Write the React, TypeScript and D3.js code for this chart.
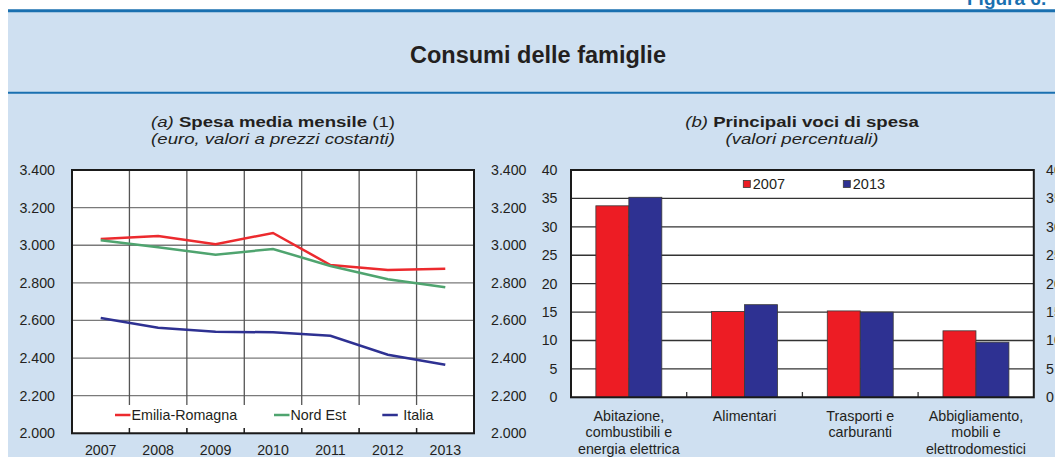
import * as d3 from 'd3';

const years = ['2007', '2008', '2009', '2010', '2011', '2012', '2013'];
const emiliaRomagna = [3033, 3049, 3005, 3065, 2895, 2868, 2875];
const nordEst = [3026, 2989, 2950, 2980, 2890, 2819, 2776];
const italia = [2613, 2561, 2540, 2537, 2519, 2418, 2365];
const euroTicks = [2000, 2200, 2400, 2600, 2800, 3000, 3200, 3400];

const voci = [
    ['Abitazione,', 'combustibili e', 'energia elettrica'],
    ['Alimentari'],
    ['Trasporti e', 'carburanti'],
    ['Abbigliamento,', 'mobili e', 'elettrodomestici']
];
const spesa2007 = [33.7, 15.1, 15.2, 11.7];
const spesa2013 = [35.2, 16.3, 15.0, 9.7];
const pctTicks = [0, 5, 10, 15, 20, 25, 30, 35, 40];

const FONT = '"Liberation Sans", Arial, Helvetica, sans-serif';
const BG = '#cfe0f1';
const BLUE_LINE = '#1a70b0';
const TXT = '#231f20';

const it = d3.formatLocale({ decimal: ',', thousands: '.', grouping: [3], currency: ['€', ''] });
const fmt = it.format(',');

const App = () => {
    // chart (a)
    const ax = d3.scaleBand().domain(years).range([72, 474]).padding(0);
    const ay = d3.scaleLinear().domain([2000, 3400]).range([433.3, 170]);
    const line = d3.line<number>()
        .x((d, i) => (ax(years[i]) as number) + ax.bandwidth() / 2)
        .y(d => ay(d));
    const series = [
        { label: 'Emilia-Romagna', values: emiliaRomagna, color: '#ec2a2e' },
        { label: 'Nord Est', values: nordEst, color: '#4fa46f' },
        { label: 'Italia', values: italia, color: '#2e3192' }
    ];
    const legendA = [115, 274, 382.3];

    // chart (b)
    const bx0 = d3.scaleBand().domain(voci.map((d, i) => String(i))).range([571, 1033.8])
        .paddingInner(0.43).paddingOuter(0.215);
    const bx1 = d3.scaleBand().domain(['2007', '2013']).range([0, bx0.bandwidth()]);
    const by = d3.scaleLinear().domain([0, 40]).range([397.3, 170]);
    const barColor: any = { '2007': '#ed1c24', '2013': '#2e3192' };
    const step = bx0.step();

    return (
        <svg width={1055} height={457} style={{ position: 'absolute', left: 0, top: 0 }} fontFamily={FONT}>
            <rect x={0} y={0} width={1055} height={457} fill="#fff" />
            <rect x={8} y={11} width={1047} height={446} fill={BG} />
            <text x={967} y={5} fontSize={19} fontWeight="bold" fill={BLUE_LINE}>Figura 6.</text>
            <line x1={8} x2={1055} y1={10.7} y2={10.7} stroke={BLUE_LINE} strokeWidth={3} />
            <line x1={8} x2={1055} y1={92.7} y2={92.7} stroke={BLUE_LINE} strokeWidth={2} />
            <text x={538} y={62.7} textAnchor="middle" fontSize={23.5} fontWeight="bold" fill={TXT}>Consumi delle famiglie</text>

            {/* subtitles */}
            <g transform="translate(273,127) scale(1.2,1)" fill={TXT} fontSize={15.5}>
                <text textAnchor="middle">
                    <tspan fontStyle="italic">(a) </tspan>
                    <tspan fontWeight="bold">Spesa media mensile</tspan>
                    <tspan> (1)</tspan>
                </text>
                <text y={17.5} textAnchor="middle" fontStyle="italic">(euro, valori a prezzi costanti)</text>
            </g>
            <g transform="translate(802,127) scale(1.2,1)" fill={TXT} fontSize={15.5}>
                <text textAnchor="middle">
                    <tspan fontStyle="italic">(b) </tspan>
                    <tspan fontWeight="bold">Principali voci di spesa</tspan>
                </text>
                <text y={17.5} textAnchor="middle" fontStyle="italic">(valori percentuali)</text>
            </g>

            {/* chart (a) */}
            <rect x={72} y={170} width={402} height={263.3} fill="#fff" />
            {euroTicks.map(t => (
                <g key={t}>
                    <line x1={72} x2={474} y1={ay(t)} y2={ay(t)} stroke="#7a7a7a" strokeWidth={1.3} />
                    <text x={55} y={ay(t)} dy="0.35em" textAnchor="end" fontSize={14.2} fill={TXT}>{fmt(t)}</text>
                    <text x={491} y={ay(t)} dy="0.35em" textAnchor="start" fontSize={14.2} fill={TXT}>{fmt(t)}</text>
                </g>
            ))}
            {years.slice(1).map(y => (
                <line key={y} x1={ax(y)} x2={ax(y)} y1={170} y2={433.3} stroke="#555" strokeWidth={1.3} />
            ))}
            <rect x={73} y={405} width={400} height={23} fill="#fff" />
            {years.slice(1).map(y => (
                <line key={'t' + y} x1={ax(y)} x2={ax(y)} y1={428} y2={433.3} stroke="#222" strokeWidth={1.3} />
            ))}
            {series.map(s => (
                <path key={s.label} d={line(s.values) as string} fill="none" stroke={s.color} strokeWidth={2.5} />
            ))}
            {series.map((s, i) => (
                <g key={'l' + s.label}>
                    <line x1={legendA[i]} x2={legendA[i] + 15.5} y1={415} y2={415} stroke={s.color} strokeWidth={2.5} />
                    <text x={legendA[i] + (i === 2 ? 21 : 16.5)} y={415} dy="0.35em" fontSize={14.3} fill={TXT}>{s.label}</text>
                </g>
            ))}
            <rect x={72} y={170} width={402} height={263.3} fill="none" stroke="#1a1a1a" strokeWidth={2} />
            {years.map(y => (
                <text key={'x' + y} x={(ax(y) as number) + ax.bandwidth() / 2} y={450.2} dy="0.35em" textAnchor="middle" fontSize={14.2} fill={TXT}>{y}</text>
            ))}

            {/* chart (b) */}
            <rect x={571} y={170} width={462.8} height={227.3} fill="#fff" />
            {pctTicks.map(t => (
                <g key={t}>
                    <line x1={571} x2={1033.8} y1={by(t)} y2={by(t)} stroke="#333" strokeWidth={1.3} />
                    <text x={557.5} y={by(t)} dy="0.35em" textAnchor="end" fontSize={14.2} fill={TXT}>{t}</text>
                    <text x={1046} y={by(t)} dy="0.35em" textAnchor="start" fontSize={14.2} fill={TXT}>{t}</text>
                </g>
            ))}
            {voci.slice(1).map((v, i) => (
                <line key={'bt' + i} x1={571 + (i + 1) * step} x2={571 + (i + 1) * step} y1={392} y2={397.3} stroke="#333" strokeWidth={1.3} />
            ))}
            {voci.map((v, i) => (
                <g key={'bar' + i} transform={`translate(${bx0(String(i))},0)`}>
                    {[{ k: '2007', v: spesa2007[i] }, { k: '2013', v: spesa2013[i] }].map(b => (
                        <rect key={b.k} x={bx1(b.k)} y={by(b.v)} width={bx1.bandwidth()} height={by(0) - by(b.v)}
                            fill={barColor[b.k]} stroke="#3a3a3a" strokeWidth={0.8} />
                    ))}
                </g>
            ))}
            <rect x={571} y={170} width={462.8} height={227.3} fill="none" stroke="#1a1a1a" strokeWidth={2} />
            {[{ k: '2007', x: 743.3 }, { k: '2013', x: 843.3 }].map(l => (
                <g key={'lb' + l.k}>
                    <rect x={l.x} y={180.5} width={7} height={7} fill={barColor[l.k]} stroke="#3a3a3a" strokeWidth={0.8} />
                    <text x={l.x + 9.5} y={184} dy="0.35em" fontSize={14.5} fill={TXT}>{l.k}</text>
                </g>
            ))}
            {voci.map((v, i) => (
                <text key={'c' + i} x={(bx0(String(i)) as number) + bx0.bandwidth() / 2} y={415.7} textAnchor="middle" fontSize={14.3} fill={TXT}>
                    {v.map((s, j) => (
                        <tspan key={j} x={(bx0(String(i)) as number) + bx0.bandwidth() / 2} dy={j === 0 ? '0.35em' : 16.7}>{s}</tspan>
                    ))}
                </text>
            ))}
        </svg>
    );
};

export default App;
